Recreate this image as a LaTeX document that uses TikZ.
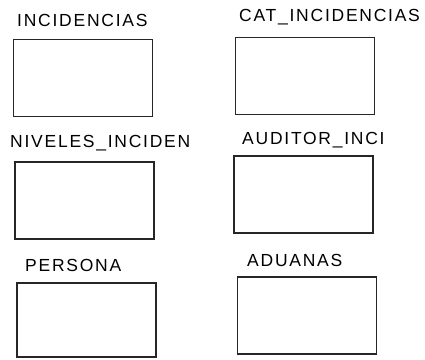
\documentclass[tikz,border=0pt]{standalone}
\usepackage{fontspec}
\setsansfont[LetterSpace=10]{Liberation Sans}
\usetikzlibrary{positioning}

\begin{document}
\begin{tikzpicture}[x=1pt,y=-1pt,
  tabla/.style={draw=black!85,line width=1.4pt,inner sep=0pt,minimum width=139pt,minimum height=77pt},
  titulo/.style={font=\sffamily\fontsize{17.5}{19}\selectfont,anchor=west,inner sep=0pt,text=black}]
\useasboundingbox (0,0) rectangle (425,359);
% tablas
\node[tabla] (incid) at (83,78) {};
\node[tabla] (catinc) at (305,76) {};
\node[tabla] (niveles) at (84.5,200.5) {};
\node[tabla] (auditor) at (303.5,194.5) {};
\node[tabla,minimum height=74pt] (persona) at (86.5,320) {};
\node[tabla] (aduanas) at (307,315.5) {};
% nombres
\node[titulo] (tincid) at (17,20) {INCIDENCIAS};
\node[titulo] (tcatinc) at (239,17) {CAT\_INCIDENCIAS};
\node[titulo] (tniveles) at (10,143) {NIVELES\_INCIDEN};
\node[titulo] (tauditor) at (242,140) {AUDITOR\_INCI};
\node[titulo] (tpersona) at (25,265) {PERSONA};
\node[titulo] (taduanas) at (247,260) {ADUANAS};
\end{tikzpicture}
\end{document}
